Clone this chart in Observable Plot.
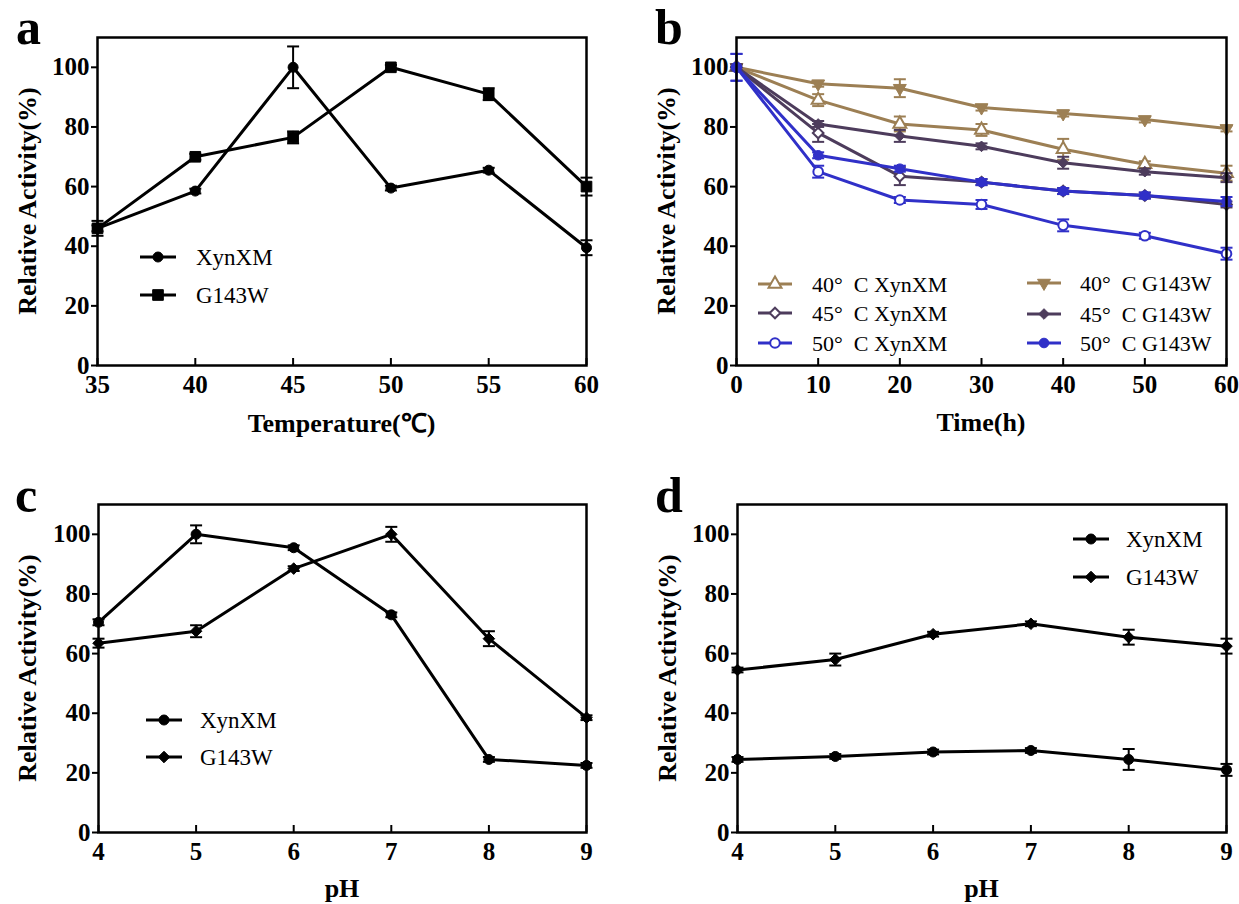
<!DOCTYPE html>
<html><head><meta charset="utf-8">
<script src="https://cdn.jsdelivr.net/npm/d3@7"></script>
<script src="https://cdn.jsdelivr.net/npm/@observablehq/plot@0.6"></script>
<style>
body{margin:0;background:#fff;}
#wrap{position:relative;width:1239px;height:904px;overflow:hidden;}
.panel{position:absolute;}
.letter{position:absolute;font-family:"Liberation Serif",serif;font-weight:bold;font-size:50px;line-height:1.1;color:#000;}
</style></head><body><div id="wrap"></div><script>
// ---------- data ----------
const yTicks = [0, 20, 40, 60, 80, 100];

// a: temperature
const tempX = [35, 40, 45, 50, 55, 60];
const tempXynXM = [46, 58.5, 100, 59.5, 65.5, 39.5];
const tempXynXMErr = [1, 0.8, 7, 0.8, 0.8, 2.5];
const tempG143W = [46, 70, 76.5, 100, 91, 60];
const tempG143WErr = [2.5, 1, 2, 0.8, 2, 3];

// b: thermal stability over time
const timeX = [0, 10, 20, 30, 40, 50, 60];
const t40XynXM = [100, 89, 81, 79, 72.5, 67.5, 64.5];
const t40XynXMErr = [1, 2, 2.5, 2, 3.5, 1, 2.5];
const t40G143W = [100, 94.5, 93, 86.5, 84.5, 82.5, 79.5];
const t40G143WErr = [1, 1, 3, 1, 1, 1, 1];
const t45XynXM = [100, 78, 63.5, 61.5, 58.5, 57, 54];
const t45XynXMErr = [1, 3, 3, 1, 1, 1, 1];
const t45G143W = [100, 81, 77, 73.5, 68, 65, 63];
const t45G143WErr = [1, 1, 2, 1, 2, 1, 1.5];
const t50XynXM = [100, 65, 55.5, 54, 47, 43.5, 37.5];
const t50XynXMErr = [4.5, 2, 1, 1.5, 2, 1, 2];
const t50G143W = [100, 70.5, 66, 61.5, 58.5, 57, 55];
const t50G143WErr = [4.5, 1, 1, 1, 1, 1, 1.5];

// c: pH optimum
const phX = [4, 5, 6, 7, 8, 9];
const phXynXM = [70.5, 100, 95.5, 73, 24.5, 22.5];
const phXynXMErr = [1, 3, 0.8, 0.8, 0.8, 0.8];
const phG143W = [63.5, 67.5, 88.5, 100, 65, 38.5];
const phG143WErr = [1.5, 2, 0.8, 2.5, 2.5, 0.8];

// d: pH stability
const phsXynXM = [24.5, 25.5, 27, 27.5, 24.5, 21];
const phsXynXMErr = [0.8, 0.8, 0.8, 0.8, 3.5, 2];
const phsG143W = [54.5, 58, 66.5, 70, 65.5, 62.5];
const phsG143WErr = [0.8, 2, 0.8, 0.8, 2.5, 2.5];

// ---------- colours ----------
const tan = "#9c7f54", purple = "#4d3c5c", blue = "#3030c8";

const FONT = '"Liberation Serif", "Times New Roman", serif';

// cap symbol for error bars
const cap = {draw(ctx) { ctx.moveTo(-6, 0); ctx.lineTo(6, 0); }};

function rows(xs, ys, es) { return xs.map((x, i) => ({x, y: ys[i], e: es[i]})); }

function seriesMarks(s) {
  const data = rows(s.x, s.y, s.e);
  return [
    Plot.line(data, {x: "x", y: "y", stroke: s.color, strokeWidth: 3}),
    Plot.ruleX(data, {x: "x", y1: d => d.y - d.e, y2: d => d.y + d.e, stroke: s.color, strokeWidth: 2}),
    Plot.dot(data, {x: "x", y: d => d.y + d.e, symbol: cap, stroke: s.color, strokeWidth: 2, fill: "none"}),
    Plot.dot(data, {x: "x", y: d => d.y - d.e, symbol: cap, stroke: s.color, strokeWidth: 2, fill: "none"}),
    Plot.dot(data, {x: "x", y: "y", symbol: s.symbol, r: s.r, rotate: s.rotate || 0,
      fill: s.open ? "white" : s.color, stroke: s.color, strokeWidth: s.open ? 2 : 1})
  ];
}

const d3sym = {circle: d3.symbolCircle, square: d3.symbolSquare, triangle: d3.symbolTriangle, diamond2: d3.symbolDiamond2};

function makePanel(cfg) {
  const m = cfg.margin;
  const frameH = cfg.height - m.top - m.bottom;
  const svg = Plot.plot({
    width: cfg.width, height: cfg.height,
    marginTop: m.top, marginRight: m.right, marginBottom: m.bottom, marginLeft: m.left,
    x: {domain: cfg.xDomain},
    y: {domain: [0, 110]},
    style: {fontFamily: FONT, fontSize: "25px", fontWeight: "bold", color: "#000", background: "transparent", overflow: "visible"},
    marks: [
      Plot.axisY({ticks: yTicks, tickSize: 6, tickPadding: 2, label: null, strokeWidth: 2,
        fontSize: 25, fontWeight: "bold", fontFamily: FONT, tickFormat: d => String(d)}),
      Plot.axisX({ticks: cfg.xTicks, tickSize: 0, tickPadding: 10, label: null,
        fontSize: 25, fontWeight: "bold", fontFamily: FONT, tickFormat: d => String(d)}),
      Plot.tickX(cfg.xTicks, {x: d => d, insetTop: frameH - 7, stroke: "#000", strokeWidth: 2}),
      ...cfg.series.flatMap(seriesMarks),
      Plot.frame({stroke: "#000", strokeWidth: 2.5})
    ]
  });
  const g = d3.select(svg);
  // axis titles
  g.append("text").attr("x", m.left + (cfg.width - m.left - m.right) / 2).attr("y", cfg.xLabelY)
    .attr("text-anchor", "middle").attr("dominant-baseline", "central")
    .style("font-family", FONT).style("font-size", "26px").style("font-weight", "bold").text(cfg.xLabel);
  g.append("text").attr("transform", `translate(${cfg.yLabelX},${m.top + frameH / 2}) rotate(-90)`)
    .attr("text-anchor", "middle").attr("dominant-baseline", "central")
    .style("font-family", FONT).style("font-size", "26px").style("font-weight", "bold").text("Relative Activity(%)");
  // legend
  cfg.legend.forEach(it => {
    const s = it.series;
    g.append("line").attr("x1", it.x1).attr("x2", it.x2).attr("y1", it.y).attr("y2", it.y)
      .attr("stroke", s.color).attr("stroke-width", 3);
    g.append("path").attr("d", d3.symbol().type(d3sym[s.symbol]).size(s.r * s.r * Math.PI)())
      .attr("transform", `translate(${(it.x1 + it.x2) / 2},${it.y}) rotate(${s.rotate || 0})`)
      .attr("fill", s.open ? "white" : s.color).attr("stroke", s.color).attr("stroke-width", s.open ? 2 : 1);
    g.append("text").attr("x", it.tx).attr("y", it.y).attr("dominant-baseline", "central")
      .attr("text-anchor", "start")
      .style("font-family", FONT).style("font-size", it.fs + "px").style("font-weight", "normal").text(s.label);
  });
  const div = document.createElement("div");
  div.className = "panel";
  div.style.left = cfg.left + "px"; div.style.top = cfg.top + "px";
  div.appendChild(svg);
  document.getElementById("wrap").appendChild(div);
  const L = document.createElement("div");
  L.className = "letter"; L.textContent = cfg.letter;
  L.style.left = cfg.letterPos[0] + "px"; L.style.top = cfg.letterPos[1] + "px";
  document.getElementById("wrap").appendChild(L);
}

// ---------- panel a ----------
const aX = {label: "XynXM", x: tempX, y: tempXynXM, e: tempXynXMErr, color: "#000", symbol: "circle", r: 5};
const aG = {label: "G143W", x: tempX, y: tempG143W, e: tempG143WErr, color: "#000", symbol: "square", r: 6};
makePanel({
  left: 0, top: 0, width: 620, height: 452, margin: {top: 37, right: 34, bottom: 87, left: 97},
  xDomain: [35, 60], xTicks: tempX, xLabel: "Temperature(℃)", xLabelY: 423, yLabelX: 27,
  series: [aX, aG], letter: "a", letterPos: [16, 0],
  legend: [
    {series: aX, x1: 140, x2: 176, y: 257, tx: 196, fs: 23},
    {series: aG, x1: 140, x2: 176, y: 295, tx: 196, fs: 23}
  ]
});

// ---------- panel b ----------
const b40X = {label: "40°  C XynXM", x: timeX, y: t40XynXM, e: t40XynXMErr, color: tan, symbol: "triangle", r: 4.8, open: true};
const b40G = {label: "40°  C G143W", x: timeX, y: t40G143W, e: t40G143WErr, color: tan, symbol: "triangle", r: 4.8, rotate: 180};
const b45X = {label: "45°  C XynXM", x: timeX, y: t45XynXM, e: t45XynXMErr, color: purple, symbol: "diamond2", r: 4.8, open: true};
const b45G = {label: "45°  C G143W", x: timeX, y: t45G143W, e: t45G143WErr, color: purple, symbol: "diamond2", r: 4.8};
const b50X = {label: "50°  C XynXM", x: timeX, y: t50XynXM, e: t50XynXMErr, color: blue, symbol: "circle", r: 4.8, open: true};
const b50G = {label: "50°  C G143W", x: timeX, y: t50G143W, e: t50G143WErr, color: blue, symbol: "circle", r: 4.8};
makePanel({
  left: 620, top: 0, width: 619, height: 452, margin: {top: 37, right: 13, bottom: 87, left: 116},
  xDomain: [0, 60], xTicks: timeX, xLabel: "Time(h)", xLabelY: 422, yLabelX: 46,
  series: [b40X, b40G, b45X, b45G, b50X, b50G], letter: "b", letterPos: [655, 0],
  legend: [
    {series: b40X, x1: 138, x2: 172, y: 284, tx: 192, fs: 22},
    {series: b45X, x1: 138, x2: 172, y: 313, tx: 192, fs: 22},
    {series: b50X, x1: 138, x2: 172, y: 343, tx: 192, fs: 22},
    {series: b40G, x1: 407, x2: 441, y: 283, tx: 460, fs: 22},
    {series: b45G, x1: 407, x2: 441, y: 314, tx: 460, fs: 22},
    {series: b50G, x1: 407, x2: 441, y: 343, tx: 460, fs: 22}
  ]
});

// ---------- panel c ----------
const cX = {label: "XynXM", x: phX, y: phXynXM, e: phXynXMErr, color: "#000", symbol: "circle", r: 5};
const cG = {label: "G143W", x: phX, y: phG143W, e: phG143WErr, color: "#000", symbol: "diamond2", r: 5.2};
makePanel({
  left: 0, top: 452, width: 620, height: 452, margin: {top: 52, right: 34, bottom: 72, left: 98},
  xDomain: [4, 9], xTicks: phX, xLabel: "pH", xLabelY: 436, yLabelX: 27,
  series: [cX, cG], letter: "c", letterPos: [15, 468],
  legend: [
    {series: cX, x1: 146, x2: 182, y: 268, tx: 200, fs: 23},
    {series: cG, x1: 146, x2: 182, y: 305, tx: 200, fs: 23}
  ]
});

// ---------- panel d ----------
const dX = {label: "XynXM", x: phX, y: phsXynXM, e: phsXynXMErr, color: "#000", symbol: "circle", r: 5};
const dG = {label: "G143W", x: phX, y: phsG143W, e: phsG143WErr, color: "#000", symbol: "diamond2", r: 5.2};
makePanel({
  left: 620, top: 452, width: 619, height: 452, margin: {top: 52, right: 13, bottom: 72, left: 117},
  xDomain: [4, 9], xTicks: phX, xLabel: "pH", xLabelY: 436, yLabelX: 47,
  series: [dX, dG], letter: "d", letterPos: [655, 468],
  legend: [
    {series: dX, x1: 453, x2: 489, y: 87, tx: 506, fs: 23},
    {series: dG, x1: 453, x2: 489, y: 125, tx: 506, fs: 23}
  ]
});
</script></body></html>
